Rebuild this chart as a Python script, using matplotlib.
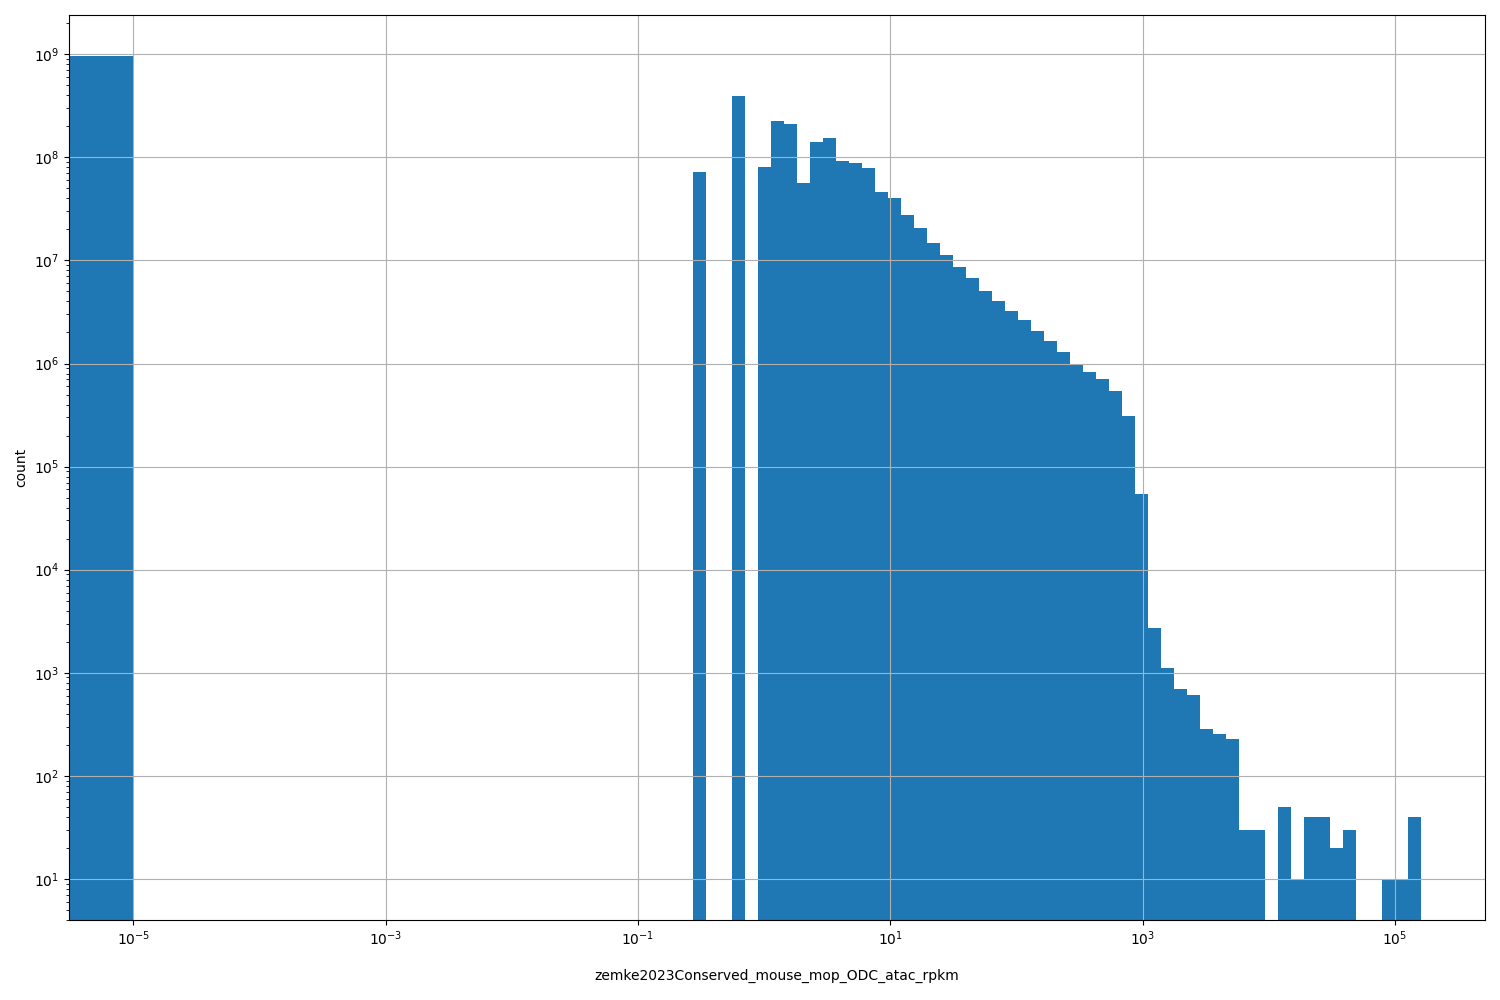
import numpy as np
import matplotlib
matplotlib.use("Agg")
import matplotlib.pyplot as plt


# histogram data (log-spaced bins, zeros in first bin)
zero_bin_edges = [0.0, 1e-5]
zero_bin_count = 9.6e8

lo_edge = 0.2737      # smallest nonzero value
hi_edge = 1.596e5     # largest value
n_bins = 56

counts = [
    7.2e7, 0, 0, 3.94e8, 0, 8.05e7, 2.25e8, 2.11e8, 5.6e7, 1.41e8,
    1.54e8, 9.2e7, 8.8e7, 7.9e7, 4.6e7, 4.0e7, 2.75e7, 2.06e7, 1.47e7, 1.12e7,
    8.6e6, 6.7e6, 5.1e6, 4.0e6, 3.2e6, 2.63e6, 2.06e6, 1.64e6, 1.28e6, 1.0e6,
    8.2e5, 7.0e5, 5.4e5, 3.07e5, 5.4e4, 2740, 1120, 700, 612, 286,
    256, 229, 30, 30, 0, 50, 10, 40, 40, 20,
    30, 0, 0, 10, 10, 40,
]

xticks = [1e-5, 1e-3, 1e-1, 1e1, 1e3, 1e5]
xlabel = "zemke2023Conserved_mouse_mop_ODC_atac_rpkm"

# bin edges
log_edges = np.logspace(np.log10(lo_edge), np.log10(hi_edge), n_bins + 1)
edges = np.concatenate([zero_bin_edges, log_edges])
weights = np.concatenate([[zero_bin_count, 0], counts])
centers = edges[:-1]

fig, ax = plt.subplots(figsize=(15, 10), dpi=100)
ax.hist(centers, bins=edges, weights=weights, color="#1f77b4")
ax.set_xscale("log")
ax.set_yscale("log")
ax.set_xticks(xticks)
ax.grid(True)
ax.set_xlabel(xlabel, labelpad=14.5)
ax.set_ylabel("count")
fig.subplots_adjust(left=0.046, right=0.99, bottom=0.08, top=0.985)
plt.savefig("out.png")
